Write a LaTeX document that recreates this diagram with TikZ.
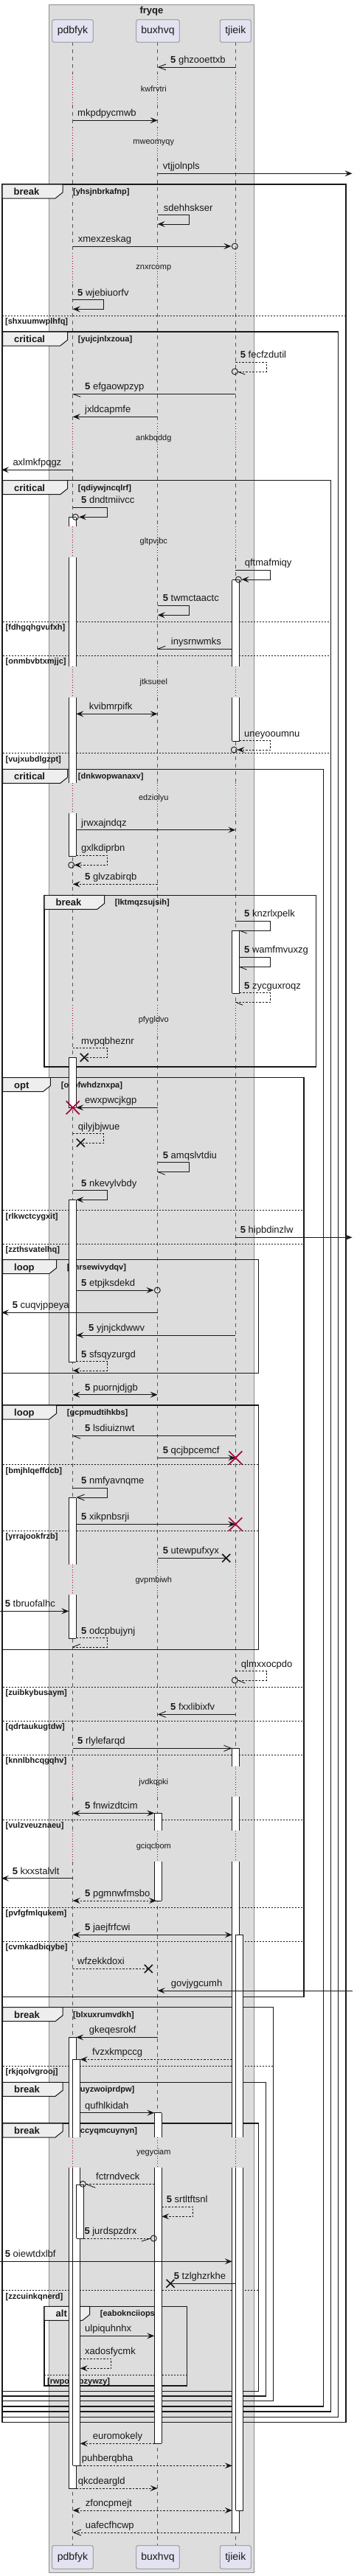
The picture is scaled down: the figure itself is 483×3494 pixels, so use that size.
\documentclass[tikz,border=0pt]{standalone}
\usepackage{fontspec}
\setmainfont{Liberation Sans}
\usetikzlibrary{arrows.meta}
\definecolor{boxbg}{HTML}{DDDDDD}
\definecolor{boxln}{HTML}{8C8C8C}
\definecolor{partbg}{HTML}{E2E2F0}
\definecolor{partln}{HTML}{888888}
\definecolor{lifeln}{HTML}{555555}
\definecolor{delayc}{HTML}{A80036}
\definecolor{tabbg}{HTML}{EEEEEE}
\definecolor{ink}{HTML}{181818}
\tikzset{
 msgline/.style={draw=ink, line width=0.9pt},
 dsh/.style={dash pattern=on 2.5pt off 2pt},
 fa/.style={-{Stealth[length=10pt,width=8pt,inset=4pt]}},
 fab/.style={{Stealth[length=10pt,width=8pt,inset=4pt]}-{Stealth[length=10pt,width=8pt,inset=4pt]}},
 oa/.style={-{Straight Barb[length=10pt,width=8pt]}},
 lbl/.style={anchor=base west, inner sep=0pt, font=\fontsize{13}{15}\selectfont, text=ink},
 dlt/.style={inner sep=0pt, font=\fontsize{11}{13}\selectfont, text=ink},
 cond/.style={anchor=base west, inner sep=0pt, font=\bfseries\fontsize{11}{13}\selectfont, text=ink},
 tabt/.style={anchor=base west, inner sep=0pt, font=\bfseries\fontsize{13}{15}\selectfont, text=ink},
 frm/.style={draw=ink, line width=1.5pt},
 sepst/.style={draw=ink, line width=0.8pt, dash pattern=on 2pt off 2pt},
 actl/.style={draw=ink, line width=0.8pt},
 xred/.style={draw=delayc, line width=1.6pt},
 xblk/.style={draw=ink, line width=1.6pt},
 part/.style={draw=partln, fill=partbg, rounded corners=2.5pt, line width=0.8pt, font=\fontsize{14}{16}\selectfont, text=ink, inner sep=0pt},
 life/.style={draw=lifeln, line width=0.6pt, dash pattern=on 5pt off 5pt},
 dly/.style={draw=delayc, line width=0.8pt, dash pattern=on 1pt off 2.5pt},
}
\newcommand\grp[8]{%
 \draw[frm] (#1,#2) rectangle (#3,#4);
 \draw[draw=ink, line width=1pt, fill=tabbg] (#1,#2) -- (#5,#2) -- (#5,#2+11) -- (#5-10,#2+19) -- (#1,#2+19) -- cycle;
 \node[tabt] at (#1+15.5,#2+14.5) {#6};
 \node[cond] at (#8,#2+13.5) {#7};}
\newcommand\sepl[4]{%
 \draw[sepst] (#1,#3) -- (#2,#3);
 \node[cond] at (#1+4,#3+11.5) {#4};}
\newcommand\act[5]{%
 \fill[white] (#1,#2) rectangle (#1+10,#3);
 \draw[actl] (#1,#2) -- (#1,#3) (#1+10,#2) -- (#1+10,#3);
 \ifnum#4=1 \draw[actl] (#1,#2) -- (#1+10,#2);\fi
 \ifnum#5=1 \draw[actl] (#1,#3) -- (#1+10,#3);\fi}
\newcommand\selfm[6]{\draw[msgline,#6] (#1,#2) -- (#3,#2) -- (#3,#4) -- (#5,#4);}
\newcommand\hb[4]{\draw[msgline] (#1,#2) -- ++(#3,#4);}
\newcommand\ringo[2]{\draw[msgline] (#1,#2) circle[radius=4pt];}
\newcommand\xr[2]{\draw[xred] (#1-9,#2-9) -- (#1+9,#2+9) (#1-9,#2+9) -- (#1+9,#2-9);}
\newcommand\xb[2]{\draw[xblk] (#1-5.5,#2-5.5) -- (#1+5.5,#2+5.5) (#1-5.5,#2+5.5) -- (#1+5.5,#2-5.5);}
\newcommand\ml[3]{\node[lbl] at (#1,#2-5.5) {#3};}
\newcommand\five{\textbf{5}\ }
\begin{document}
\begin{tikzpicture}[x=1pt,y=-1pt]
\useasboundingbox (0,0) rectangle (483,3494);
% box
\draw[draw=boxln, fill=boxbg, line width=0.8pt] (66.7,6) rectangle (344.3,3489);
\node[font=\bfseries\fontsize{13}{15}\selectfont, text=ink] (ttl) at (205.5,14.7) {fryqe};
% lifelines
\foreach \x in {98.7,213.7,319.3}{
 \foreach \a/\b in {57.3/100.2,141.8/172.5,214.1/343.2,384.8/574.2,615.8/714.3,755.7/904.3,946.3/1061.7,1103.3/1363.2,1404.8/2121.7,2163.3/2395.7,2437.3/2483.3,2525/2899,2940/3452.7}{
  \draw[life] (\x,\a) -- (\x,\b);}
 \foreach \a/\b in {100.2/141.8,172.5/214.1,343.2/384.8,574.2/615.8,714.3/755.7,904.3/946.3,1061.7/1103.3,1363.2/1404.8,2121.7/2163.3,2395.7/2437.3,2483.3/2525,2899/2940}{
  \draw[dly] (\x,\a) -- (\x,\b);}
}
% delay texts
\foreach \t/\y in {kwfrvtri/121,mweomyqy/193.3,znxrcomp/364,ankbqddg/595,gltpvjbc/735,jtksueel/926,edziolyu/1082.7,pfygldvo/1384,gvpmbiwh/2143.3,jvdkqpki/2417.3,gciqcbom/2505,yegyciam/2920}{
 \node[dlt] at (208.3,\y) {\t};}
% participants
\node[part, minimum width=55.6pt, minimum height=30.6pt] (pA) at (98.5,42) {pdbfyk};
\node[part, minimum width=58.6pt, minimum height=30.6pt] (pB) at (214,42) {buxhvq};
\node[part, minimum width=42pt, minimum height=30.6pt] (pC) at (319.3,42) {tjieik};
\node[part, minimum width=55.6pt, minimum height=31.6pt] (pAb) at (98.5,3468.5) {pdbfyk};
\node[part, minimum width=58.6pt, minimum height=31.6pt] (pBb) at (214,3468.5) {buxhvq};
\node[part, minimum width=42pt, minimum height=31.6pt] (pCb) at (319.3,3468.5) {tjieik};
% frames
\grp{3}{250}{469}{3285.7}{85}{break}{[yhsjnbrkafnp]}{99}
\sepl{3}{469}{428.3}{[shxuumwplhfq]}
\grp{3.5}{450}{458.7}{3278.3}{91.7}{critical}{[yujcjnlxzoua]}{105.7}
\grp{3.5}{651.7}{448.7}{3271}{91.7}{critical}{[qdiywjncqlrf]}{105.7}
\sepl{3.5}{448.7}{843.3}{[fdhgqhgvufxh]}
\sepl{3.5}{448.7}{889.3}{[onmbvbtxmjjc]}
\sepl{3.5}{448.7}{1021.7}{[vujxubdlgzpt]}
\grp{3.5}{1043.3}{438.7}{3264}{91.7}{critical}{[dnkwopwanaxv]}{105.7}
\grp{60}{1214.3}{428.7}{1447}{141.7}{break}{[lktmqzsujsih]}{155.7}
\grp{3.5}{1461.7}{412}{2708.7}{68.3}{opt}{[ozofwhdznxpa]}{82.7}
\sepl{3.5}{412}{1641.7}{[rlkwctcygxit]}
\sepl{3.5}{412}{1687.3}{[zzthsvatelhq]}
\sepl{3.5}{412}{2288}{[zuibkybusaym]}
\sepl{3.5}{412}{2334.3}{[qdrtaukugtdw]}
\sepl{3.5}{412}{2380.3}{[knnlbhcqgqhv]}
\sepl{3.5}{412}{2468.3}{[vulzveuznaeu]}
\sepl{3.5}{412}{2587}{[pvfgfmlqukem]}
\sepl{3.5}{412}{2633.3}{[cvmkadbiqybe]}
\grp{3.5}{1708.7}{350.7}{1862.7}{76.7}{loop}{[jmrsewivydqv]}{90.7}
\grp{3.5}{1906}{350.7}{2237.3}{76.7}{loop}{[gcpmudtihkbs]}{90.7}
\sepl{3.5}{350.7}{1986.7}{[bmjhlqeffdcb]}
\sepl{3.5}{350.7}{2076.3}{[yrrajookfrzb]}
\grp{3.5}{2722.7}{370.7}{3256.7}{85}{break}{[blxuxrumvdkh]}{99}
\sepl{3.5}{370.7}{2802.3}{[rkjqolvgrooj]}
\grp{3.5}{2824.3}{360.7}{3250}{85}{break}{[euyzwoiprdpw]}{99}
\grp{3.5}{2880}{350.7}{3243.3}{85}{break}{[xccyqmcuynyn]}{99}
\sepl{3.5}{350.7}{3106.7}{[zzcuinkqnerd]}
\grp{60}{3128.3}{253.3}{3236}{121.7}{alt}{[eaboknciiops]}{135.7}
\sepl{60}{253.3}{3221.7}{[rwpodebzywzy]}
% activations
\act{93.3}{701.7}{714.3}{1}{0}
\act{93.3}{755.7}{904.3}{0}{0}
\act{93.3}{946.3}{1061.7}{0}{0}
\act{93.3}{1103.3}{1161}{0}{1}
\act{93.3}{1434.3}{1502.3}{1}{1}
\act{93.3}{1627.7}{1847.3}{1}{1}
\act{93.3}{2031.7}{2121.7}{1}{0}
\act{93.3}{2163.3}{2222.3}{0}{1}
\act{93.3}{2763.3}{2899}{1}{0}
\act{93.3}{2940}{3375}{0}{1}
\act{98.7}{2793.3}{2899}{1}{0}
\act{98.7}{2940}{3344.3}{0}{1}
\act{103.7}{2963.3}{3036}{1}{1}
\act{209.3}{2459.3}{2483.3}{1}{0}
\act{209.3}{2525}{2578}{0}{1}
\act{209.3}{2865.7}{2899}{1}{0}
\act{209.3}{2940}{3314.3}{0}{1}
\act{314.7}{786.7}{904.3}{1}{0}
\act{314.7}{946.3}{1005.3}{0}{1}
\act{314.7}{1262.3}{1347.3}{1}{1}
\act{314.7}{2371.3}{2395.7}{1}{0}
\act{314.7}{2437.3}{2483.3}{0}{0}
\act{314.7}{2525}{2899}{0}{0}
\act{314.7}{2940}{3435}{0}{1}
\act{319.7}{2624.3}{2899}{1}{0}
\act{319.7}{2940}{3405}{0}{1}
% messages
\draw[msgline,oa] (319.3,91) -- (213.7,91); \ml{231}{91}{\five ghzooettxb}
\draw[msgline,fa] (98.7,163.3) -- (213.7,163.3); \ml{105}{163.3}{mkpdpycmwb}
\draw[msgline,fa] (213.7,235.3) -- (477.5,235.3); \ml{220.7}{235.3}{vtjjolnpls}
\selfm{213.7}{291.7}{256.7}{304}{213.7}{fa} \ml{221.7}{291.7}{sdehhskser}
\draw[msgline,fa] (98.7,334) -- (313.5,334); \ringo{318.3}{334} \ml{105.7}{334}{xmexzeskag}
\selfm{98.7}{406.7}{140.7}{419.3}{98.7}{fa} \ml{105}{406.7}{\five wjebiuorfv}
\selfm{319.3}{491.3}{361.7}{504}{322.3}{dsh} \ringo{318.3}{504} \hb{322.3}{504}{10}{4} \ml{325.7}{491.3}{\five fecfzdutil}
\draw[msgline] (319.3,534.3) -- (98.7,534.3); \hb{98.7}{534.3}{10.5}{4} \ml{115}{534.3}{\five efgaowpzyp}
\draw[msgline,fa] (213.7,565.3) -- (98.7,565.3); \ml{115}{565.3}{jxldcapmfe}
\draw[msgline,fa] (98.7,637.3) -- (2,637.3); \ml{17.3}{637.3}{axlmkfpqgz}
\selfm{98.7}{688.3}{145.7}{701.3}{107}{fa} \ringo{102.3}{701.3} \ml{110}{688.3}{\five dndtmiivcc}
\selfm{319.3}{773.3}{366.7}{786}{327.5}{fa} \ringo{323.3}{786} \ml{331.7}{773.3}{qftmafmiqy}
\selfm{213.7}{821.3}{256.7}{834.3}{213.7}{fa} \ml{220.7}{821.3}{\five twmctaactc}
\draw[msgline] (314.7,880.3) -- (213.7,880.3); \hb{213.7}{880.3}{10.5}{-4} \ml{231.7}{880.3}{inysrnwmks}
\draw[msgline,fab] (103.3,968.3) -- (213.7,968.3); \ml{120.7}{968.3}{kvibmrpifk}
\selfm{324.7}{1004.7}{366.7}{1017}{321.5}{fa,dsh} \ringo{317.3}{1017} \ml{331}{1004.7}{uneyooumnu}
\draw[msgline,fa] (103.3,1125.7) -- (319.3,1125.7); \ml{110}{1125.7}{jrwxajndqz}
\selfm{103.3}{1160.3}{145.7}{1173.3}{100.7}{fa,dsh} \ringo{96.7}{1173.3} \ml{110}{1160.3}{gxlkdiprbn}
\draw[msgline,fa,dsh] (213.7,1199.3) -- (98.7,1199.3); \ml{115}{1199.3}{\five glvzabirqb}
\selfm{319.3}{1249.3}{366.7}{1262}{324.7}{} \hb{324.7}{1262}{10}{4} \ml{331}{1249.3}{\five knzrlxpelk}
\selfm{324.7}{1298.3}{366.7}{1311.3}{324.7}{} \hb{324.7}{1311.3}{10}{4} \ml{331}{1298.3}{\five wamfmvuxzg}
\selfm{324.7}{1346.7}{366.7}{1359.3}{319.3}{dsh} \hb{319.3}{1359.3}{10}{4} \ml{331}{1346.7}{\five zycguxroqz}
\selfm{98.7}{1421.7}{145.7}{1434.3}{114.3}{dsh} \xb{114.3}{1434.3} \ml{110}{1421.7}{mvpqbheznr}
\draw[msgline,fa] (213.7,1502.3) -- (103.3,1502.3); \xr{98.7}{1502.3} \ml{115}{1502.3}{ewxpwcjkgp}
\selfm{98.7}{1537.7}{140.7}{1550}{109.3}{dsh} \xb{109.3}{1550} \ml{105.7}{1537.7}{qilyjbjwue}
\selfm{213.7}{1576.7}{256.7}{1589.3}{213.7}{} \hb{213.7}{1589.3}{10}{4} \ml{220.7}{1576.7}{\five amqslvtdiu}
\selfm{98.7}{1614.7}{145.7}{1627.3}{103.3}{fa} \ml{110}{1614.7}{\five nkevylvbdy}
\draw[msgline,fa] (319.3,1678.3) -- (477.5,1678.3); \ml{325.7}{1678.3}{\five hipbdinzlw}
\draw[msgline,fa] (103.3,1750) -- (208.5,1750); \ringo{213.3}{1750} \ml{110}{1750}{\five etpjksdekd}
\draw[msgline,fa] (213.7,1780.3) -- (2,1780.3); \ml{16.7}{1780.3}{\five cuqvjppeya}
\draw[msgline,fa] (319.3,1811) -- (103.3,1811); \ml{120}{1811}{\five yjnjckdwwv}
\selfm{103.3}{1846.7}{145.7}{1859}{98.7}{fa,dsh} \ml{110}{1846.7}{\five sfsqyzurgd}
\draw[msgline,fab] (98.7,1891.7) -- (213.7,1891.7); \ml{115}{1891.7}{\five puornjdjgb}
\draw[msgline] (319.3,1947.3) -- (98.7,1947.3); \hb{98.7}{1947.3}{10.5}{4} \ml{115}{1947.3}{\five lsdiuiznwt}
\draw[msgline,fa] (213.7,1977.3) -- (319.3,1977.3); \xr{319.3}{1977.3} \ml{220.7}{1977.3}{\five qcjbpcemcf}
\selfm{98.7}{2018.3}{145.7}{2031}{103.3}{oa} \ml{110}{2018.3}{\five nmfyavnqme}
\draw[msgline,fa] (103.3,2067.3) -- (319.3,2067.3); \xr{319.3}{2067.3} \ml{110}{2067.3}{\five xikpnbsrji}
\draw[msgline] (213.7,2113.3) -- (306.7,2113.3); \xb{306.7}{2113.3} \ml{220.7}{2113.3}{\five utewpufxyx}
\draw[msgline,fa] (0,2185.3) -- (93.3,2185.3); \ml{6.7}{2185.3}{\five tbruofalhc}
\selfm{103.3}{2221.7}{145.7}{2234}{98.7}{dsh} \hb{98.7}{2234}{10}{-4} \ml{110}{2221.7}{\five odcpbujynj}
\selfm{319.3}{2266.7}{361.7}{2279}{322.3}{dsh} \ringo{318.3}{2279} \hb{322.3}{2279}{10}{4} \ml{326.7}{2266.7}{qlmxxocpdo}
\draw[msgline,oa] (319.3,2325.3) -- (213.7,2325.3); \ml{231}{2325.3}{\five fxxlibixfv}
\draw[msgline,oa] (98.7,2371.3) -- (314.7,2371.3); \ml{105}{2371.3}{\five rlylefarqd}
\draw[msgline,fab] (98.7,2459.3) -- (209.3,2459.3); \ml{115}{2459.3}{\five fnwizdtcim}
\draw[msgline,fa] (98.7,2547.7) -- (2,2547.7); \ml{16.7}{2547.7}{\five kxxstalvlt}
\draw[msgline,fab,dsh] (98.7,2578) -- (212,2578); \ml{115}{2578}{\five pgmnwfmsbo}
\draw[msgline,fab] (98.7,2624.3) -- (314.7,2624.3); \ml{115}{2624.3}{\five jaejfrfcwi}
\draw[msgline,dsh] (98.7,2670.3) -- (201.3,2670.3); \xb{201.3}{2670.3} \ml{105}{2670.3}{wfzekkdoxi}
\draw[msgline,fa] (478,2700) -- (213.7,2700); \ml{231.7}{2700}{govjygcumh}
\draw[msgline,fa] (213.7,2763.3) -- (103.3,2763.3); \ml{120.7}{2763.3}{gkeqesrokf}
\draw[msgline,fa,dsh] (314.7,2793.3) -- (108.7,2793.3); \ml{125}{2793.3}{fvzxkmpccg}
\draw[msgline,fa] (108.7,2865.7) -- (209.3,2865.7); \ml{115}{2865.7}{qufhlkidah}
\draw[msgline,dsh] (209.3,2962.3) -- (116.3,2962.3); \ringo{112.3}{2962.3} \hb{116.3}{2962.3}{13}{5} \ml{130}{2962.3}{fctrndveck}
\selfm{219.3}{2993.3}{261.7}{3006.3}{219.3}{fa,dsh} \ml{225.7}{2993.3}{\five srtltftsnl}
\draw[msgline,dsh] (113.7,3036) -- (204.3,3036); \ringo{208.3}{3036} \hb{204.3}{3036}{-12.5}{4} \ml{114.3}{3036}{\five jurdspzdrx}
\draw[msgline,fa] (0,3067.3) -- (314.7,3067.3); \ml{6.7}{3067.3}{\five oiewtdxlbf}
\draw[msgline] (319.3,3097.3) -- (231,3097.3); \xb{231}{3097.3} \ml{235.7}{3097.3}{\five tzlghzrkhe}
\draw[msgline,fa] (108.7,3168.3) -- (209.3,3168.3); \ml{115}{3168.3}{ulpiquhnhx}
\selfm{108.7}{3199}{150.7}{3212.3}{108.7}{fa,dsh} \ml{115}{3199}{xadosfycmk}
\draw[msgline,fa,dsh] (209.3,3314.3) -- (108.7,3314.3); \ml{125.7}{3314.3}{euromokely}
\draw[msgline,fa,dsh] (108.7,3344.3) -- (314.7,3344.3); \ml{110.7}{3344.3}{puhberqbha}
\draw[msgline,fa,dsh] (103.3,3375) -- (213.7,3375); \ml{105.7}{3375}{qkcdeargld}
\draw[msgline,fab,dsh] (98.7,3405) -- (314.7,3405); \ml{115.7}{3405}{zfoncpmejt}
\draw[msgline,oa,dsh] (314.7,3435) -- (98.7,3435); \ml{115.7}{3435}{uafecfhcwp}
\end{tikzpicture}
\end{document}
